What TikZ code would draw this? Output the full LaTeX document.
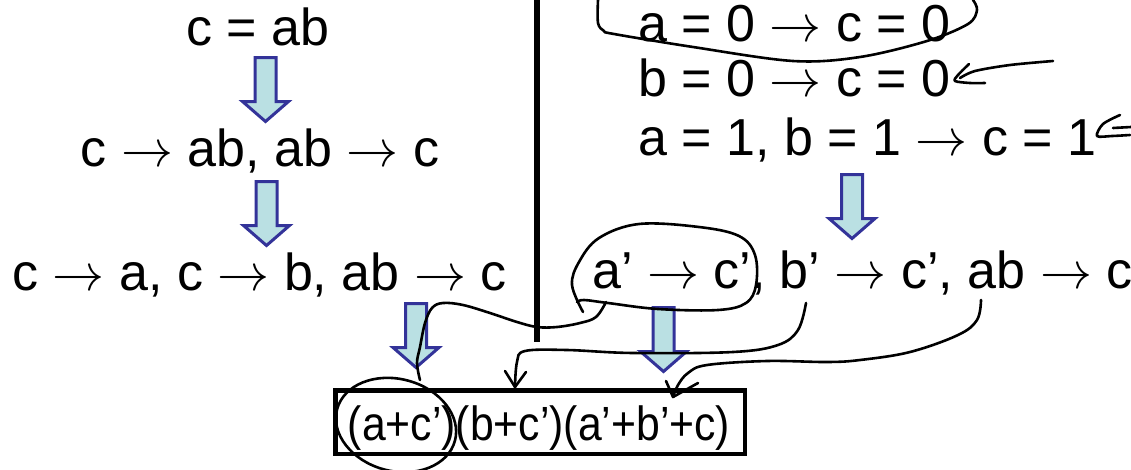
\documentclass[tikz,border=0pt]{standalone}
\usepackage{fontspec}
\setmainfont{Liberation Sans}
\usepackage{graphicx}
\usepackage{xcolor}
\usepackage{tikz}
\usetikzlibrary{calc,positioning}
\definecolor{arrowblue}{HTML}{333399}
\definecolor{arrowfill}{HTML}{BAE0E3}
\newcommand{\imp}{{\fontsize{24.88}{30}\selectfont\scalebox{2.09}{$\rightarrow$}}}
\tikzset{
  blockarrow/.pic={
    \draw[line width=3pt, draw=arrowblue, fill=arrowfill, line join=miter]
      (-10.5,0) -- (-10.5,44) -- (-23,44) -- (0,64) -- (23,44) -- (10.5,44) -- (10.5,0) -- cycle;
  },
}

\begin{document}
\begin{tikzpicture}[
  x=1pt, y=-1pt,
  bigtext/.style={font=\fontsize{52}{60}\selectfont, inner sep=0pt, anchor=base},
  linetext/.style={bigtext, anchor=base west},
  ink/.style={line width=2.6pt, line cap=round, line join=round},
]
\useasboundingbox (0,0) rectangle (1131,469);

% Left column - from c = ab to the three implications
\node[bigtext] (eqn) at (258,45) {c = ab};
\node[bigtext] (impl) at (260,166) {c \imp{} ab, ab \imp{} c};
\node[bigtext] (split) at (259.5,290) {c \imp{} a, c \imp{} b, ab \imp{} c};
\pic at (265.5,57.5) {blockarrow};
\pic at (266.5,181.5) {blockarrow};
\pic at (416,303.5) {blockarrow};

% Divider
\draw[line width=6.5pt] (537,0) -- (537,342);

% Right column - truth table rows
\node[linetext] (rowa) at (638,41) {a = 0 \imp{} c = 0};
\node[linetext] (rowb) at (638,96) {b = 0 \imp{} c = 0};
\node[linetext] (rowab) at (638,155) {a = 1, b = 1 \imp{} c = 1};
\node[linetext] (neg) at (592,288) {a' \imp{} c', b' \imp{} c', ab \imp{} c};
\pic at (852,174.5) {blockarrow};
\pic at (663.5,307.5) {blockarrow};

% Result clauses
\node[draw, line width=4.5pt, minimum width=409.5, minimum height=63.5, inner sep=0pt] (box) at (540,422) {};
\node[bigtext, font=\fontsize{48}{56}\selectfont] (cnf) at (539,440) {\scalebox{0.89}[1]{(a+c')(b+c')(a'+b'+c)}};

% Hand-drawn marks
\coordinate (aloop) at (583,312);
\coordinate (afoot) at (606,302);
\coordinate (bfoot) at (806,303);
\coordinate (abfoot) at (981,300);
\coordinate (clsa) at (420,380);
\coordinate (clsb) at (515,387);
\coordinate (clsab) at (673,397);

\draw[ink] plot[smooth, tension=0.55] coordinates {(598,0) (598,23) (604,31) (614,34) (693,47) (793,61) (860,57) (927,41) (968,24) (977,10) (973,0)};
\draw[ink] plot[smooth] coordinates {(1053,61) (1010,65) (975,71) (960,78)};
\draw[ink] plot[smooth] coordinates {(969,64) (958,75) (955,81) (970,83) (985,83)};
\draw[ink] (1131,127) -- (1113,128);
\draw[ink] plot[smooth] coordinates {(1120,115) (1103,124) (1097,136) (1112,136) (1130,135)};

\draw[ink] plot[smooth, tension=0.6] coordinates {(aloop) (572,285) (579,262) (599,238) (639,224) (699,227) (739,236) (755,255) (756,285) (746,303) (718,310) (658,309) (608,303) (584,300) (577,302)};
\draw[ink] plot[smooth, tension=0.6] coordinates {(afoot) (596,317) (580,323) (557,327) (537,327) (517,322) (490,313) (463,305) (443,303) (432,308) (425,323) (420,347) (417,363) (clsa)};
\draw[ink, rotate around={-15:(396,425)}] (396,425) ellipse [x radius=61, y radius=46];

\draw[ink] plot[smooth, tension=0.6] coordinates {(bfoot) (798,330) (778,345) (733,352) (633,353) (567,350) (525,351) (517,362) (clsb)};
\draw[ink] (505,371) -- (clsb) -- (526,372);

\draw[ink] plot[smooth, tension=0.6] coordinates {(abfoot) (977,320) (958,335) (910,352) (860,360) (827,362) (767,361) (707,365) (688,373) (678,385) (clsab)};
\draw[ink] (666,381) -- (clsab) -- (698,383);

\end{tikzpicture}
\end{document}
